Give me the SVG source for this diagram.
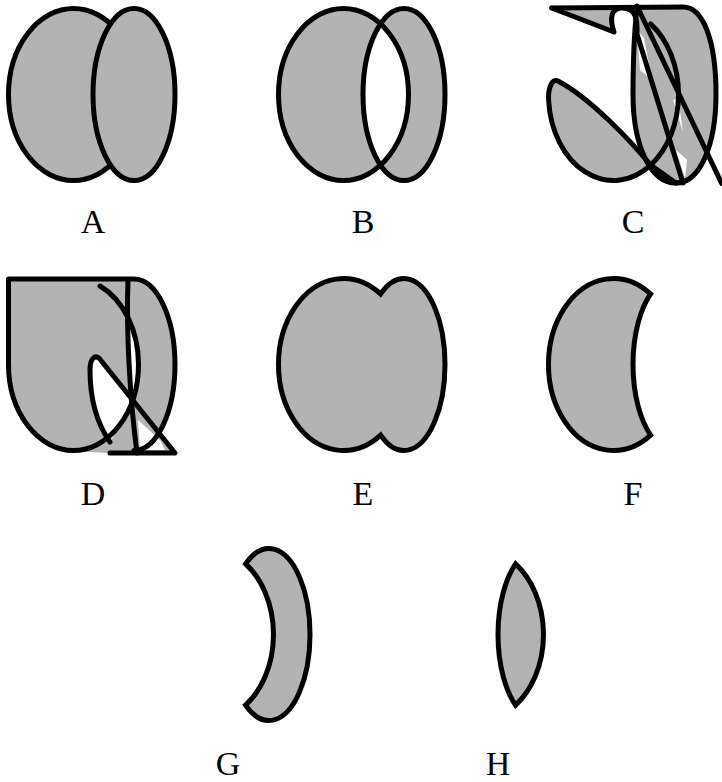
<svg xmlns="http://www.w3.org/2000/svg" width="722" height="782" viewBox="0 0 722 782">
<style>
.s{fill:#b3b3b3;stroke:#000;stroke-width:5;stroke-linejoin:miter;stroke-miterlimit:10}
.g{fill:#b3b3b3;stroke:none}
.w{fill:#fff;stroke:none}
.k{fill:none;stroke:#000;stroke-width:5;stroke-linejoin:round;stroke-linecap:round}
.t{font-family:"Liberation Serif","Times New Roman",serif;font-size:34px;fill:#000;text-anchor:middle}
</style>
<rect width="722" height="782" fill="#fff"/>
<g id="A">
<ellipse class="s" cx="73.5" cy="94.5" rx="65" ry="86"/>
<ellipse class="s" cx="134" cy="94.5" rx="41" ry="86"/>
<text class="t" x="93" y="233">A</text>
</g>
<g id="B" transform="translate(270,0)">
<path class="s" fill-rule="evenodd" d="M8.5,94.5 A65,86 0 1,0 138.5,94.5 A65,86 0 1,0 8.5,94.5 Z M93,94.5 A41,86 0 1,0 175,94.5 A41,86 0 1,0 93,94.5 Z"/>
<text class="t" x="93" y="233">B</text>
</g>
<g id="C" transform="translate(540,0)">
<path class="g" d="M11.7,8 L80,8 L73,31 Z"/>
<path class="g" d="M18,81 C12,78 8,88 8.6,100 A65,86 0 0,0 110.6,165.1 C90,140 50,98 18,81 Z"/>
<path class="g" d="M97,7 L143,7 C163,7 176,40 176,94 C176,145 160,183 136,183 C110,183 93,145 93,94 C93,50 95,25 97,7 Z"/>
<path class="w" d="M97,30 L104,38 L112,80 L100,70 Z"/>
<path class="w" d="M133,100 L138,98 L143,132 Z"/>
<path class="w" d="M136,150 L147,160 L145,178 Z"/>
<path class="w" d="M74,10 C80,8 95,8 97,14 L96,30 L80,32 C72,28 70,14 74,10 Z"/>
<path class="k" d="M11.7,8 L143,7 C163,7 176,40 176,94 C176,145 160,183 136,183 C110,183 93,145 93,94 C93,50 95,25 97,7"/>
<path class="k" d="M11.7,8 L74,32 C70,20 70,8 82,8 C92,8 97,14 97,28 L97,34 L143,183"/>
<path class="k" d="M97,6 L181.7,183.3"/>
<path class="k" d="M110.6,23.9 A65,86 0 0,1 138.5,94.5 A65,86 0 0,1 110.6,165.1"/>
<path class="k" d="M18,81 C12,78 8,88 8.6,100 A65,86 0 0,0 110.6,165.1 C90,140 50,98 18,81 Z"/>
<path class="k" d="M110.6,165.1 L136,183"/>
<text class="t" x="93" y="233">C</text>
</g>
<g id="D" transform="translate(0,270)">
<path class="g" d="M8.5,94.5 L8.5,9 L134,9 A41,86 0 0,1 175,94.5 C175,125 170,145 160,163 L175,183 L110,183 C100,183 90,182 73.5,180.5 A65,86 0 0,1 8.5,94.5 Z"/>
<path class="w" d="M110,172 C98,155 90,130 90,100 C90,88 95,85 99,88 L131,129 L130,140 Z"/>
<path class="w" d="M129,50 A65,86 0 0,1 138.5,94.5 A65,86 0 0,1 130,138 Z"/>
<path class="w" d="M138,150 L160,170 L165,180 L140,180 Z"/>
<path class="k" d="M8.5,94.5 L8.5,9 L134,9 A41,86 0 0,1 175,94.5 A41,86 0 0,1 134,180.5"/>
<path class="k" d="M8.5,94.5 A65,86 0 0,0 73.5,180.5 A65,86 0 0,0 138.5,94.5 A65,86 0 0,0 100,16"/>
<path class="k" d="M128,10 C126,60 130,130 137,183"/>
<path class="k" d="M110,172 C98,155 90,130 90,100 C90,88 95,85 99,88 L175,183 L110,183"/>
<text class="t" x="93" y="235">D</text>
</g>
<g id="E" transform="translate(270,270)">
<path class="s" d="M110.6,23.9 A65,86 0 1,0 110.6,165.1 A41,86 0 1,0 110.6,23.9 Z"/>
<text class="t" x="93" y="235">E</text>
</g>
<g id="F" transform="translate(540,270)">
<path class="s" d="M110.6,23.9 A65,86 0 1,0 110.6,165.1 A41,86 0 0,1 110.6,23.9 Z"/>
<text class="t" x="93" y="235">F</text>
</g>
<g id="G" transform="translate(135,540)">
<path class="s" d="M110.6,23.9 A41,86 0 1,1 110.6,165.1 A65,86 0 0,0 110.6,23.9 Z"/>
<text class="t" x="93" y="235">G</text>
</g>
<g id="H" transform="translate(405,540)">
<path class="s" d="M110.6,23.9 A65,86 0 0,1 110.6,165.1 A41,86 0 0,1 110.6,23.9 Z"/>
<text class="t" x="93" y="235">H</text>
</g>
<g id="connectors"></g>
</svg>
